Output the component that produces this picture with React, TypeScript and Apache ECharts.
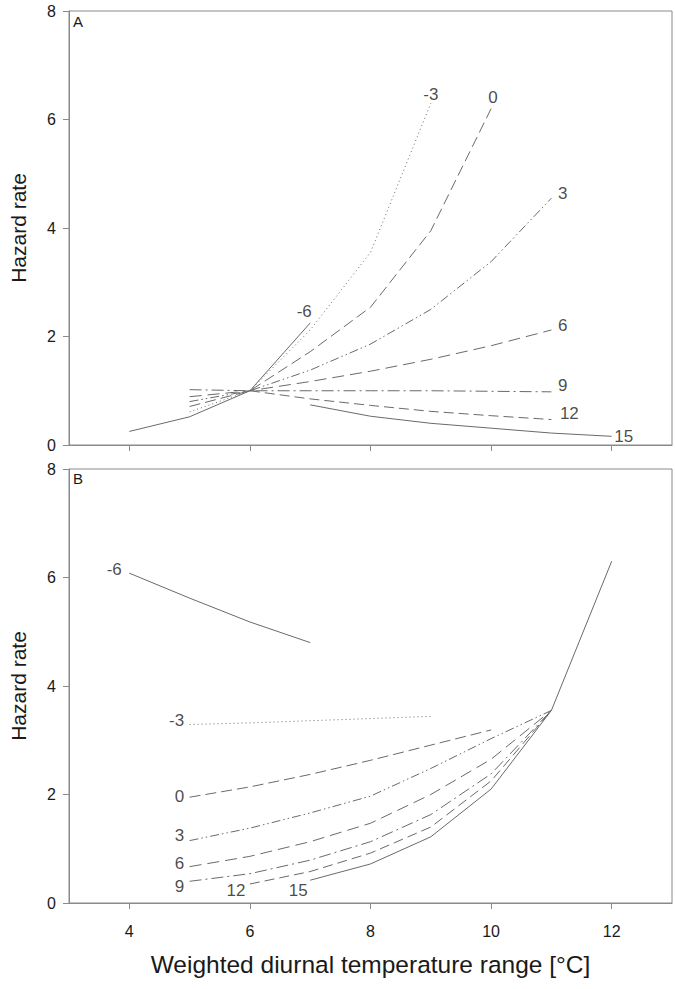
import React, { useEffect, useRef } from "react";
import * as echarts from "echarts";

// Temperature classes (labels of curves)
const temps = ["-6", "-3", "0", "3", "6", "9", "12", "15"];

// Panel A: x (weighted DTR) and hazard rate per temperature class
const aX_m6 = [4, 5, 6, 7];
const aY_m6 = [0.25, 0.52, 1.0, 2.25];
const aX_m3 = [5, 6, 7, 8, 9];
const aY_m3 = [0.61, 1.0, 2.12, 3.55, 6.3];
const aX_0 = [5, 6, 7, 8, 9, 10];
const aY_0 = [0.71, 1.0, 1.72, 2.54, 3.95, 6.2];
const aX_3 = [5, 6, 7, 8, 9, 10, 11];
const aY_3 = [0.8, 1.0, 1.38, 1.86, 2.5, 3.38, 4.55];
const aX_6 = [5, 6, 7, 8, 9, 10, 11];
const aY_6 = [0.89, 1.0, 1.17, 1.36, 1.58, 1.83, 2.12];
const aX_9 = [5, 6, 7, 8, 9, 10, 11];
const aY_9 = [1.02, 1.0, 1.0, 1.0, 1.0, 0.99, 0.98];
const aX_12 = [6, 7, 8, 9, 10, 11];
const aY_12 = [1.0, 0.85, 0.73, 0.62, 0.54, 0.47];
const aX_15 = [7, 8, 9, 10, 11, 12];
const aY_15 = [0.74, 0.53, 0.4, 0.31, 0.22, 0.16];

// Panel B
const bX_m6 = [4, 5, 6, 7];
const bY_m6 = [6.08, 5.62, 5.18, 4.8];
const bX_m3 = [5, 6, 7, 8, 9];
const bY_m3 = [3.29, 3.32, 3.36, 3.4, 3.44];
const bX_0 = [5, 6, 7, 8, 9, 10];
const bY_0 = [1.95, 2.14, 2.37, 2.63, 2.91, 3.19];
const bX_3 = [5, 6, 7, 8, 9, 10, 11];
const bY_3 = [1.15, 1.38, 1.66, 1.97, 2.48, 3.03, 3.55];
const bX_6 = [5, 6, 7, 8, 9, 10, 11];
const bY_6 = [0.67, 0.86, 1.13, 1.47, 2.0, 2.65, 3.55];
const bX_9 = [5, 6, 7, 8, 9, 10, 11];
const bY_9 = [0.4, 0.54, 0.79, 1.13, 1.63, 2.38, 3.55];
const bX_12 = [6, 7, 8, 9, 10, 11];
const bY_12 = [0.35, 0.58, 0.92, 1.4, 2.25, 3.55];
const bX_15 = [7, 8, 9, 10, 11, 12];
const bY_15 = [0.42, 0.72, 1.22, 2.1, 3.55, 6.3];

const xTicks = [4, 6, 8, 10, 12];
const yTicks = [0, 2, 4, 6, 8];
const panelLetters = ["A", "B"];
const xTitle = "Weighted diurnal temperature range [°C]";
const yTitle = "Hazard rate";

const FONT = "'Liberation Sans', Arial, sans-serif";
const LINE_COLOR = "#6a6a6a";
const AXIS_COLOR = "#8a8a8a";
const TEXT_COLOR = "#1a1a1a";

const dashStyles: any[] = [
  "solid", // -6
  [1, 3], // -3 dotted
  [11, 5], // 0
  [9, 3, 1.5, 3, 1.5, 3], // 3
  [12, 6], // 6
  [12, 4, 2, 4], // 9
  [10, 5], // 12
  "solid", // 15
];

const panelA = [
  [aX_m6, aY_m6], [aX_m3, aY_m3], [aX_0, aY_0], [aX_3, aY_3],
  [aX_6, aY_6], [aX_9, aY_9], [aX_12, aY_12], [aX_15, aY_15],
];
const panelB = [
  [bX_m6, bY_m6], [bX_m3, bY_m3], [bX_0, bY_0], [bX_3, bY_3],
  [bX_6, bY_6], [bX_9, bY_9], [bX_12, bY_12], [bX_15, bY_15],
];

// label placement (style only): panel A at last point, panel B at first point
const labelA: any[] = [
  { position: "top", offset: [-6, 2] },
  { position: "top", offset: [0, 4] },
  { position: "top", offset: [2, 2] },
  { position: "right", offset: [2, -5] },
  { position: "right", offset: [2, -4] },
  { position: "right", offset: [2, -6] },
  { position: "right", offset: [4, -6] },
  { position: "right", offset: [-2, 0] },
];
const labelB: any[] = [
  { position: "left", offset: [-3, -4] },
  { position: "left", offset: [-1, -4] },
  { position: "left", offset: [-1, -1] },
  { position: "left", offset: [-1, -5] },
  { position: "left", offset: [-1, -3] },
  { position: "left", offset: [-1, 5] },
  { position: "left", offset: [0, 6] },
  { position: "left", offset: [2, 10] },
];

function buildLines(panel: any[], idx: number) {
  return panel.map(([xs, ys]: any, i: number) => ({
    type: "line",
    name: temps[i] + (idx === 0 ? "A" : "B"),
    xAxisIndex: idx,
    yAxisIndex: idx,
    symbol: "none",
    showSymbol: false,
    silent: true,
    lineStyle: { color: LINE_COLOR, width: 1, type: dashStyles[i] },
    data: xs.map((x: number, j: number) => [x, ys[j]]),
  }));
}

function buildLabels(panel: any[], idx: number, labels: any[], atEnd: boolean) {
  return {
    type: "scatter",
    xAxisIndex: idx,
    yAxisIndex: idx,
    symbol: "circle",
    symbolSize: 1,
    silent: true,
    itemStyle: { color: "rgba(0,0,0,0)" },
    data: panel.map(([xs, ys]: any, i: number) => {
      const k = atEnd ? xs.length - 1 : 0;
      return {
        value: [xs[k], ys[k]],
        label: {
          show: true,
          formatter: temps[i],
          position: labels[i].position,
          offset: labels[i].offset,
          distance: 4,
          fontSize: 17,
          fontFamily: FONT,
          color: TEXT_COLOR,
        },
      };
    }),
  };
}

export default function App() {
  const ref = useRef<HTMLDivElement>(null);
  useEffect(() => {
    if (!ref.current) return;
    const chart = echarts.init(ref.current, undefined, { renderer: "svg" });
    const gridBase = {
      left: 69,
      right: 3,
      height: 434,
      show: true,
      borderColor: AXIS_COLOR,
      borderWidth: 1,
      backgroundColor: "transparent",
    };
    const xAxisBase = (gi: number, showLabels: boolean) => ({
      type: "value",
      gridIndex: gi,
      min: 3,
      max: 13,
      axisLine: { show: true, lineStyle: { color: AXIS_COLOR, width: 1 } },
      axisTick: {
        show: true,
        customValues: xTicks,
        length: 6,
        inside: false,
        lineStyle: { color: AXIS_COLOR },
      },
      axisLabel: {
        show: showLabels,
        customValues: xTicks,
        fontSize: 16,
        fontFamily: FONT,
        color: TEXT_COLOR,
        margin: 20,
      },
      splitLine: { show: false },
      name: showLabels ? xTitle : "",
      nameLocation: "middle",
      nameGap: 49,
      nameTextStyle: { fontSize: 24.5, fontFamily: FONT, color: TEXT_COLOR },
    });
    const yAxisBase = (gi: number) => ({
      type: "value",
      gridIndex: gi,
      min: 0,
      max: 8,
      interval: 2,
      axisLine: { show: true, lineStyle: { color: AXIS_COLOR, width: 1 } },
      axisTick: { show: true, length: 6, inside: false, lineStyle: { color: AXIS_COLOR } },
      axisLabel: {
        fontSize: 16,
        fontFamily: FONT,
        color: TEXT_COLOR,
        margin: 13,
        customValues: yTicks,
      },
      splitLine: { show: false },
      name: yTitle,
      nameLocation: "middle",
      nameGap: 40,
      nameTextStyle: { fontSize: 21, fontFamily: FONT, color: TEXT_COLOR },
    });

    chart.setOption({
      animation: false,
      backgroundColor: "#ffffff",
      textStyle: { fontFamily: FONT },
      grid: [
        { ...gridBase, top: 11 },
        { ...gridBase, top: 469 },
      ],
      xAxis: [xAxisBase(0, false), xAxisBase(1, true)],
      yAxis: [yAxisBase(0), yAxisBase(1)],
      graphic: [
        {
          type: "text",
          left: 73,
          top: 14,
          style: { text: panelLetters[0], fontSize: 15, fontFamily: FONT, fill: TEXT_COLOR },
        },
        {
          type: "text",
          left: 73,
          top: 471,
          style: { text: panelLetters[1], fontSize: 15, fontFamily: FONT, fill: TEXT_COLOR },
        },
      ],
      series: [
        ...buildLines(panelA, 0),
        ...buildLines(panelB, 1),
        buildLabels(panelA, 0, labelA, true),
        buildLabels(panelB, 1, labelB, false),
      ],
    });
    return () => chart.dispose();
  }, []);
  return (
    <div
      ref={ref}
      style={{ position: "fixed", left: 0, top: 0, width: 675, height: 989, background: "#fff" }}
    />
  );
}
